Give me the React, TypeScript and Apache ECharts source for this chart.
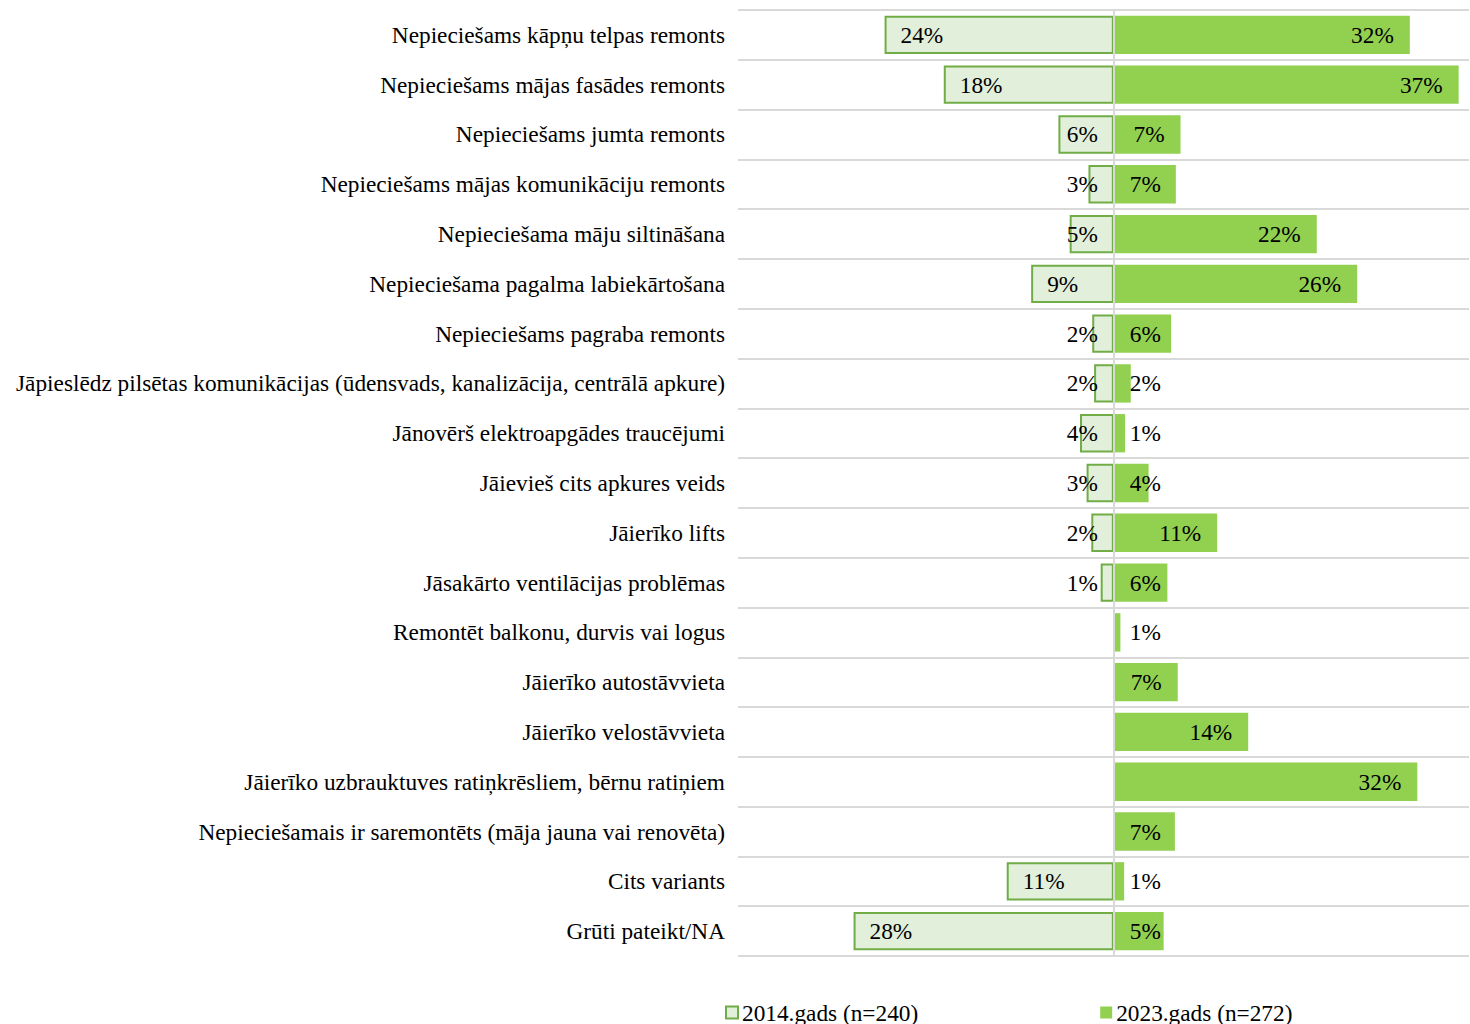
import React, { useEffect, useRef } from "react";
import * as echarts from "echarts";

const categories = [
  "Nepieciešams kāpņu telpas remonts",
  "Nepieciešams mājas fasādes remonts",
  "Nepieciešams jumta remonts",
  "Nepieciešams mājas komunikāciju remonts",
  "Nepieciešama māju siltināšana",
  "Nepieciešama pagalma labiekārtošana",
  "Nepieciešams pagraba remonts",
  "Jāpieslēdz pilsētas komunikācijas (ūdensvads, kanalizācija, centrālā apkure)",
  "Jānovērš elektroapgādes traucējumi",
  "Jāievieš cits apkures veids",
  "Jāierīko lifts",
  "Jāsakārto ventilācijas problēmas",
  "Remontēt balkonu, durvis vai logus",
  "Jāierīko autostāvvieta",
  "Jāierīko velostāvvieta",
  "Jāierīko uzbrauktuves ratiņkrēsliem, bērnu ratiņiem",
  "Nepieciešamais ir saremontēts (māja jauna vai renovēta)",
  "Cits variants",
  "Grūti pateikt/NA",
];

const values2014: (number | null)[] = [
  24.4, 18.1, 5.9, 2.7, 4.7, 8.8, 2.3, 2.1, 3.6, 2.9, 2.4, 1.4,
  null, null, null, null, null, 11.4, 27.7,
];

const values2023: number[] = [
  31.5, 36.7, 7.1, 6.6, 21.6, 25.9, 6.1, 1.8, 1.2, 3.7, 11.0, 5.7,
  0.7, 6.8, 14.3, 32.3, 6.5, 1.1, 5.3,
];

const seriesNames = ["2014.gads (n=240)", "2023.gads (n=272)"];

const X_MIN = -40;
const X_MAX = 37.8;
const GRID_LEFT = 738;
const GRID_RIGHT = 1;
const WIDTH = 1470;
const HEIGHT = 1024;
const FONT = "'Liberation Serif', 'Times New Roman', serif";
const FS = 23.3;

function labelWidth(v: number) {
  return String(Math.round(v)).length >= 2 ? 43 : 31;
}

export default function App() {
  const ref = useRef<HTMLDivElement>(null);

  useEffect(() => {
    document.body.style.margin = "0";
    if (!ref.current) return;
    const chart = echarts.init(ref.current, null, { renderer: "svg" });
    const pxPer = (WIDTH - GRID_LEFT - GRID_RIGHT) / (X_MAX - X_MIN);

    const fmt = (p: any) => Math.round(Math.abs(p.value)) + "%";

    const data2014 = values2014.map((v) => {
      if (v === null) return { value: null };
      const fits = v * pxPer >= 32 + labelWidth(v);
      return {
        value: -v,
        label: fits
          ? { position: "insideLeft", distance: 16 }
          : { position: "insideRight", distance: 16 },
      };
    });

    const data2023 = values2023.map((v) => {
      const fits = v * pxPer >= 32 + labelWidth(v);
      return {
        value: v,
        label: fits
          ? { position: "insideRight", distance: 16 }
          : { position: "insideLeft", distance: 16 },
      };
    });

    const labelCommon = {
      show: true,
      formatter: fmt,
      fontFamily: FONT,
      fontSize: FS,
      color: "#000",
    };

    chart.setOption({
      animation: false,
      textStyle: { fontFamily: FONT },
      grid: { left: GRID_LEFT, right: GRID_RIGHT, top: 10, bottom: 68 },
      xAxis: {
        type: "value",
        min: X_MIN,
        max: X_MAX,
        show: false,
        splitLine: { show: false },
      },
      yAxis: {
        type: "category",
        data: categories,
        inverse: true,
        axisLine: { show: false, onZero: false },
        axisTick: { show: false },
        splitLine: { show: true, lineStyle: { color: "#D9D9D9", width: 2 } },
        axisLabel: {
          fontFamily: FONT,
          fontSize: FS,
          color: "#000",
          margin: 13,
        },
      },
      legend: {
        top: 1001,
        left: 725,
        padding: 0,
        icon: "rect",
        itemWidth: 12,
        itemHeight: 12,
        itemGap: 182,
        textStyle: { fontFamily: FONT, fontSize: FS, color: "#000", padding: [0, 0, 0, -1] },
        data: seriesNames,
      },
      series: [
        {
          name: seriesNames[0],
          type: "bar",
          barGap: "-100%",
          barCategoryGap: "23%",
          data: data2014,
          itemStyle: {
            color: "#E2EFDA",
            borderColor: "#70AD47",
            borderWidth: 2,
          },
          label: labelCommon,
        },
        {
          name: seriesNames[1],
          type: "bar",
          barGap: "-100%",
          barCategoryGap: "23%",
          data: data2023,
          itemStyle: { color: "#92D050" },
          label: labelCommon,
          markLine: {
            silent: true,
            symbol: "none",
            label: { show: false },
            lineStyle: { color: "#D9D9D9", width: 2, type: "solid" },
            data: [{ xAxis: 0 }],
            z: 10,
          },
        },
      ],
    });

    return () => chart.dispose();
  }, []);

  return <div ref={ref} style={{ width: WIDTH, height: HEIGHT }} />;
}
